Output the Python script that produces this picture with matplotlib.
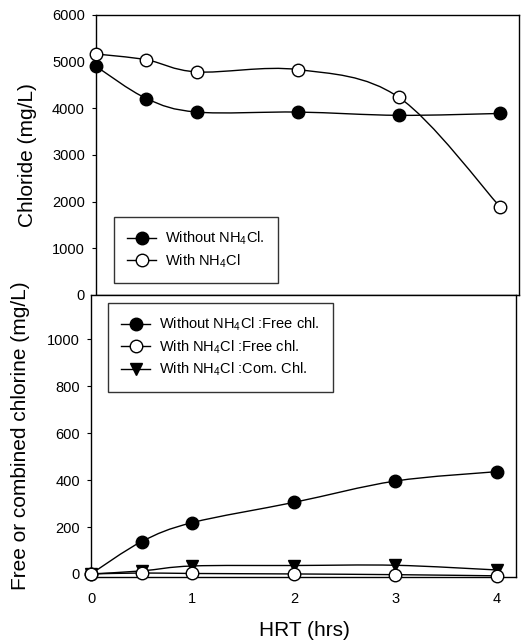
import numpy as np
import matplotlib
matplotlib.use("Agg")
import matplotlib.pyplot as plt
import matplotlib.lines as mlines
from matplotlib.path import Path
from matplotlib.patches import PathPatch

plt.rcParams["font.family"] = ["Liberation Sans", "DejaVu Sans"]
plt.rcParams["mathtext.fontset"] = "custom"
plt.rcParams["mathtext.rm"] = "Liberation Sans"
plt.rcParams["mathtext.it"] = "Liberation Sans"

# HRT (hrs)
hrt = [0, 0.5, 1, 2, 3, 4]

# top panel: chloride (mg/L)
cl_without = [4900, 4210, 3920, 3920, 3850, 3890]
cl_with = [5165, 5040, 4780, 4830, 4235, 1895]

# bottom panel: free / combined chlorine (mg/L)
free_without = [0, 138, 219, 305, 396, 436]
free_with = [0, 4, 2, 0, -3, -8]
comb_with = [0, 13, 34, 36, 37, 17]

top_labels = [r"Without NH$_4$Cl.", r"With NH$_4$Cl"]
bot_labels = [r"Without NH$_4$Cl :Free chl.", r"With NH$_4$Cl :Free chl.",
              r"With NH$_4$Cl :Com. Chl."]


def smooth_line(ax, x, y):
    # catmull-rom style curve through the points, drawn as bezier path
    pts = np.column_stack([x, y]).astype(float)
    n = len(pts)
    verts = [pts[0]]
    codes = [Path.MOVETO]
    for i in range(n - 1):
        p0 = pts[max(i - 1, 0)]
        p1 = pts[i]
        p2 = pts[i + 1]
        p3 = pts[min(i + 2, n - 1)]
        verts += [p1 + (p2 - p0) / 6, p2 - (p3 - p1) / 6, p2]
        codes += [Path.CURVE4] * 3
    ax.add_patch(PathPatch(Path(verts, codes), fill=False, ec="black",
                           lw=1.0, zorder=2, clip_on=False))


fig = plt.figure(figsize=(5.22, 6.42), dpi=100)
ax1 = fig.add_axes([96 / 522, 1 - 295 / 642, 423 / 522, 280 / 642])
ax2 = fig.add_axes([91 / 522, 1 - 577 / 642, 425 / 522, 282 / 642])

mk = dict(color="black", ms=9, mec="black", mew=1.0, clip_on=False, zorder=3)

# top panel
smooth_line(ax1, hrt, cl_without)
smooth_line(ax1, hrt, cl_with)
ax1.plot(hrt, cl_without, "o", mfc="black", **mk)
ax1.plot(hrt, cl_with, "o", mfc="white", **mk)
ax1.set_xlim(0, 4.19)
ax1.set_ylim(0, 6000)
ax1.set_yticks(range(0, 6001, 1000))
ax1.tick_params(axis="x", bottom=False, labelbottom=False)
ax1.tick_params(axis="y", direction="out", length=3, width=0.8, pad=5, labelsize=10.5)
ax1.set_ylabel("Chloride (mg/L)", fontsize=15)
ax1.yaxis.set_label_coords(-0.139, 0.5)

leg_h1 = [mlines.Line2D([], [], color="black", lw=1.0, marker="o", ms=9,
                        mfc=c, mec="black") for c in ("black", "white")]
lg1 = ax1.legend(leg_h1, top_labels, loc="upper left", bbox_to_anchor=(0.043, 0.279),
                 borderaxespad=0, fancybox=False, edgecolor="black", fontsize=10.5,
                 handlelength=2.0, labelspacing=0.35, borderpad=0.9, handletextpad=0.6)
lg1.get_frame().set_linewidth(1.0)

# bottom panel
smooth_line(ax2, hrt, free_without)
smooth_line(ax2, hrt, free_with)
smooth_line(ax2, hrt, comb_with)
ax2.plot(hrt, free_without, "o", mfc="black", **mk)
ax2.plot(hrt, comb_with, "v", mfc="black", **{**mk, "ms": 8})
ax2.plot(hrt, free_with, "o", mfc="white", **mk)
ax2.set_xlim(0, 4.19)
ax2.set_ylim(-13, 1189)
ax2.set_xticks([0, 1, 2, 3, 4])
ax2.set_yticks(range(0, 1001, 200))
ax2.tick_params(axis="x", length=0, pad=11, labelsize=10.5)
ax2.tick_params(axis="y", direction="out", length=3, width=0.8, pad=5, labelsize=10.5)
ax2.set_ylabel("Free or combined chlorine (mg/L)", fontsize=15)
ax2.yaxis.set_label_coords(-0.144, 0.5)
ax2.set_xlabel("HRT (hrs)", fontsize=15)
ax2.xaxis.set_label_coords(0.503, -0.155)

leg_h2 = [mlines.Line2D([], [], color="black", lw=1.0, marker=m, ms=s,
                        mfc=c, mec="black")
          for m, c, s in (("o", "black", 9), ("o", "white", 9), ("v", "black", 8))]
lg2 = ax2.legend(leg_h2, bot_labels, loc="upper left", bbox_to_anchor=(0.04, 0.972),
                 borderaxespad=0, fancybox=False, edgecolor="black", fontsize=10.5,
                 handlelength=2.0, labelspacing=0.35, borderpad=0.9, handletextpad=0.6)
lg2.get_frame().set_linewidth(1.0)

for ax in (ax1, ax2):
    for s in ax.spines.values():
        s.set_linewidth(1.0)

fig.savefig("out.png", dpi=100)
